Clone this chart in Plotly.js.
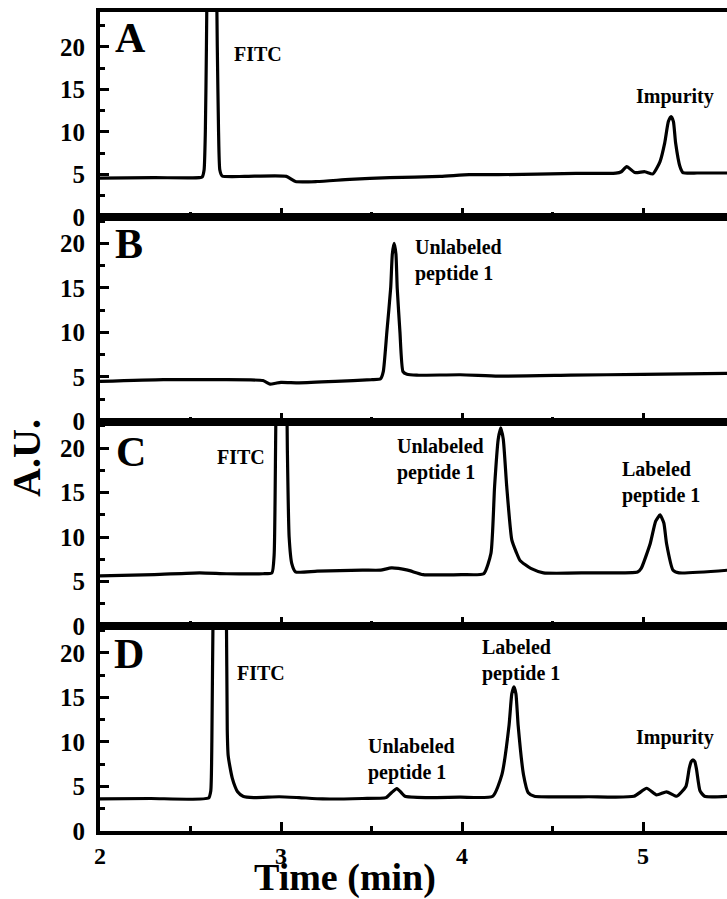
<!DOCTYPE html>
<html>
<head>
<meta charset="utf-8">
<script src="https://cdn.plot.ly/plotly-3.0.1.min.js"></script>
<style>html,body{margin:0;padding:0;background:#fff;}#chart{width:727px;height:899px;}</style>
</head>
<body>
<div id="chart"></div>
<script>
// Panel A
const tA = [2.0, 2.3, 2.55, 2.565, 2.575, 2.582, 2.588, 2.595, 2.618, 2.64, 2.648, 2.655, 2.662, 2.675, 2.8, 3.03, 3.08, 3.2, 3.38, 3.6, 3.88, 4.04, 4.2, 4.63, 4.85, 4.88, 4.91, 4.955, 5.01, 5.055, 5.094, 5.12, 5.14, 5.155, 5.168, 5.18, 5.204, 5.22, 5.3, 5.47];
const yA = [4.55, 4.6, 4.6, 4.7, 5.5, 10, 20, 35, 60, 35, 20, 10, 5.5, 4.8, 4.75, 4.75, 4.15, 4.15, 4.4, 4.6, 4.75, 4.95, 4.95, 5.1, 5.14, 5.3, 5.9, 5.2, 5.3, 5.05, 6.5, 8.7, 11.2, 11.8, 11.2, 8.7, 5.9, 5.2, 5.15, 5.15];
// Panel B
const tB = [2.0, 2.35, 2.66, 2.9, 2.94, 2.97, 3.0, 3.1, 3.3, 3.5, 3.55, 3.565, 3.585, 3.606, 3.615, 3.625, 3.635, 3.642, 3.657, 3.674, 3.696, 3.75, 3.99, 4.2, 4.6, 5.0, 5.47];
const yB = [4.5, 4.7, 4.7, 4.6, 4.2, 4.3, 4.4, 4.35, 4.5, 4.7, 4.8, 5.6, 10.1, 15.0, 18.8, 20.0, 18.8, 15.0, 10.1, 5.6, 5.3, 5.2, 5.25, 5.1, 5.2, 5.3, 5.4];
// Panel C
const tC = [2.0, 2.3, 2.55, 2.7, 2.9, 2.95, 2.962, 2.97, 2.98, 3.003, 3.025, 3.035, 3.045, 3.06, 3.08, 3.2, 3.45, 3.55, 3.61, 3.7, 3.785, 4.0, 4.12, 4.16, 4.18, 4.2, 4.214, 4.228, 4.247, 4.275, 4.3, 4.32, 4.35, 4.38, 4.45, 4.7, 4.97, 4.99, 5.04, 5.07, 5.094, 5.115, 5.13, 5.166, 5.2, 5.47];
const yC = [5.66, 5.8, 6.0, 5.9, 5.9, 6.0, 8, 20, 40, 60, 40, 20, 10, 7, 6.1, 6.2, 6.3, 6.3, 6.55, 6.3, 5.8, 5.8, 5.9, 8.2, 15.7, 21.0, 22.3, 21.0, 15.7, 9.7, 8.3, 7.4, 6.9, 6.5, 6.0, 6.0, 6.1, 6.5, 9.3, 11.8, 12.5, 11.6, 9.3, 6.3, 6.0, 6.3];
// Panel D
const tD = [2.0, 2.28, 2.6, 2.612, 2.618, 2.625, 2.663, 2.698, 2.703, 2.708, 2.718, 2.73, 2.746, 2.76, 2.79, 2.85, 2.99, 3.1, 3.23, 3.45, 3.58, 3.61, 3.64, 3.665, 3.685, 3.8, 3.99, 4.17, 4.22, 4.26, 4.275, 4.287, 4.298, 4.31, 4.34, 4.366, 4.4, 4.7, 4.95, 5.02, 5.075, 5.13, 5.186, 5.237, 5.255, 5.266, 5.276, 5.286, 5.295, 5.315, 5.34, 5.47];
const yD = [3.6, 3.65, 3.7, 4.5, 10, 25, 60, 25, 11.4, 8.5, 7.2, 6.0, 5.0, 4.4, 3.9, 3.75, 3.85, 3.75, 3.6, 3.65, 3.75, 4.3, 4.75, 4.3, 3.9, 3.75, 3.8, 3.9, 6.3, 11.9, 15.4, 16.2, 15.4, 11.9, 6.3, 4.3, 3.9, 3.85, 3.9, 4.8, 4.05, 4.4, 3.9, 5.0, 7.0, 7.8, 8.0, 7.8, 7.0, 4.5, 3.9, 3.9];

const panelLetters = ['A', 'B', 'C', 'D'];
const xTickVals = [2, 3, 4, 5];
const yTickVals = [0, 5, 10, 15, 20];
const xTitle = 'Time (min)';
const yTitle = 'A.U.';

const FONT = 'Liberation Serif, Times New Roman, serif';
const lineStyle = {color: '#000', width: 3.2, shape: 'spline', smoothing: 0.5};

const traces = [
  {x: tA, y: yA, xaxis: 'x', yaxis: 'y'},
  {x: tB, y: yB, xaxis: 'x2', yaxis: 'y2'},
  {x: tC, y: yC, xaxis: 'x3', yaxis: 'y3'},
  {x: tD, y: yD, xaxis: 'x4', yaxis: 'y4'}
].map(t => Object.assign(t, {type: 'scatter', mode: 'lines', line: lineStyle, hoverinfo: 'skip', showlegend: false}));

function xAx(anchor, showLabels) {
  return {
    anchor: anchor, domain: [0, 1], range: [2, 5.464],
    showline: true, linewidth: 4, linecolor: '#000', mirror: true,
    ticks: 'inside', ticklen: 9, tickwidth: 3, tickcolor: '#000',
    tickvals: xTickVals, ticktext: xTickVals.map(String),
    minor: {dtick: 0.5, tick0: 2, ticks: 'inside', ticklen: 5, tickwidth: 3, tickcolor: '#000'},
    showticklabels: showLabels, ticklabelstandoff: 0,
    tickfont: {family: FONT, size: 24, color: '#000', weight: 'bold'},
    showgrid: false, zeroline: false, fixedrange: true
  };
}
function yAx(anchor, domain, top) {
  return {
    anchor: anchor, domain: domain, range: [0, top],
    showline: true, linewidth: 4, linecolor: '#000', mirror: false,
    ticks: 'inside', ticklen: 9, tickwidth: 3, tickcolor: '#000',
    tickvals: yTickVals, ticktext: yTickVals.map(String),
    minor: {dtick: 2.5, tick0: 0, ticks: 'inside', ticklen: 5, tickwidth: 3, tickcolor: '#000'},
    ticklabelstandoff: 6,
    tickfont: {family: FONT, size: 25, color: '#000', weight: 'bold'},
    showgrid: false, zeroline: false, fixedrange: true
  };
}

function lab(xr, yr, x, y, text, size, opts) {
  return Object.assign({xref: xr, yref: yr, x: x, y: y, text: text, showarrow: false,
    font: {family: FONT, size: size, color: '#000', weight: 'bold'}, xanchor: 'center', yanchor: 'middle'}, opts || {});
}

const annotations = [
  lab('x', 'y', 2.171, 21.06, panelLetters[0], 42),
  lab('x', 'y', 2.873, 19.2, 'FITC', 20),
  lab('x', 'y', 5.177, 14.2, 'Impurity', 20),
  lab('x2', 'y2', 2.160, 19.9, panelLetters[1], 42),
  lab('x2', 'y2', 3.729, 18.1, 'Unlabeled<br>peptide 1', 20, {xanchor: 'left', align: 'left'}),
  lab('x3', 'y3', 2.171, 19.6, panelLetters[2], 42),
  lab('x3', 'y3', 2.779, 19.0, 'FITC', 20),
  lab('x3', 'y3', 3.630, 18.7, 'Unlabeled<br>peptide 1', 20, {xanchor: 'left', align: 'left'}),
  lab('x3', 'y3', 4.873, 16.1, 'Labeled<br>peptide 1', 20, {xanchor: 'left', align: 'left'}),
  lab('x4', 'y4', 2.160, 19.9, panelLetters[3], 42),
  lab('x4', 'y4', 2.890, 17.7, 'FITC', 20),
  lab('x4', 'y4', 3.470, 8.0, 'Unlabeled<br>peptide 1', 20, {xanchor: 'left', align: 'left'}),
  lab('x4', 'y4', 4.099, 19.2, 'Labeled<br>peptide 1', 20, {xanchor: 'left', align: 'left'}),
  lab('x4', 'y4', 5.177, 10.5, 'Impurity', 20),
  lab('paper', 'paper', -0.1164, 0.4556, yTitle, 40, {textangle: -90}),
  lab('paper', 'paper', 0.39, -0.0855, xTitle, 38, {yanchor: 'bottom'})
];

const layout = {
  width: 727, height: 899,
  margin: {l: 100, r: 0, t: 12, b: 68},
  paper_bgcolor: '#fff', plot_bgcolor: '#fff',
  font: {family: FONT, color: '#000', weight: 'bold'},
  showlegend: false,
  xaxis: xAx('y', false), yaxis: yAx('x', [0.75, 1], 24.1),
  xaxis2: xAx('y2', false), yaxis2: yAx('x2', [0.5, 0.75], 23),
  xaxis3: xAx('y3', false), yaxis3: yAx('x3', [0.25, 0.5], 23),
  xaxis4: xAx('y4', true), yaxis4: yAx('x4', [0, 0.25], 23),
  annotations: annotations
};

Plotly.newPlot('chart', traces, layout, {displayModeBar: false, staticPlot: true});
</script>
</body>
</html>
